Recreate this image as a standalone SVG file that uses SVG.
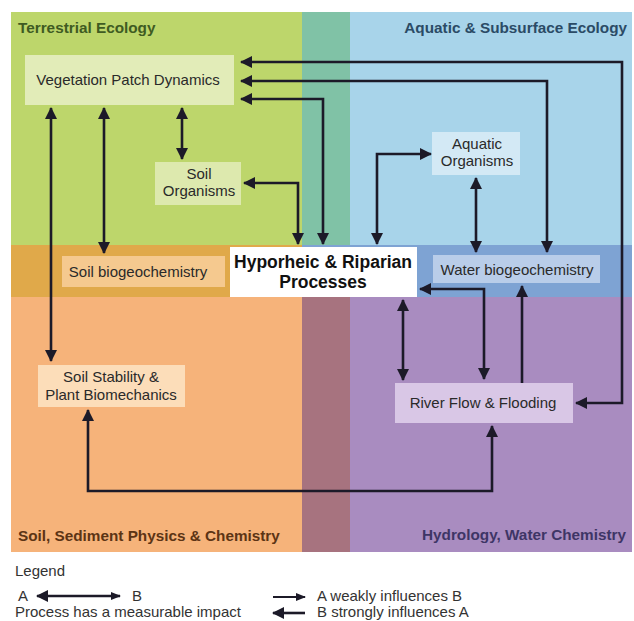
<svg xmlns="http://www.w3.org/2000/svg" width="634" height="621" viewBox="0 0 634 621">
<defs>
<marker id="ah" viewBox="0 0 12 12" refX="11" refY="6" markerWidth="12" markerHeight="12" markerUnits="userSpaceOnUse" orient="auto-start-reverse"><path d="M0,0 L12,6 L0,12 z" fill="#1c1a28"/></marker>
<marker id="ahs" viewBox="0 0 10 8" refX="9" refY="4" markerWidth="10" markerHeight="8" markerUnits="userSpaceOnUse" orient="auto-start-reverse"><path d="M0,0 L10,4 L0,8 z" fill="#1c1a28"/></marker>
<style>
.lbl{font-family:"Liberation Sans",Arial,sans-serif;font-size:15px;fill:#2a2a2a;text-anchor:middle}
.sec{font-family:"Liberation Sans",Arial,sans-serif;font-size:15.3px;font-weight:bold}
.leg{font-family:"Liberation Sans",Arial,sans-serif;font-size:15px;fill:#333}
.c{fill:none;stroke:#1c1a28;stroke-width:2.6;marker-start:url(#ah);marker-end:url(#ah)}
.c1{fill:none;stroke:#1c1a28;stroke-width:2.6;marker-end:url(#ah)}
</style>
</defs>
<rect width="634" height="621" fill="#ffffff"/>
<g id="background">
<rect x="11" y="12" width="291" height="233" fill="#bdd66b"/>
<rect x="302" y="12" width="48" height="233" fill="#80c2a6"/>
<rect x="350" y="12" width="282" height="233" fill="#a8d4ea"/>
<rect x="11" y="245" width="291" height="52" fill="#e0a94a"/>
<rect x="302" y="245" width="330" height="52" fill="#7ea3d3"/>
<rect x="11" y="297" width="291" height="255" fill="#f6b37a"/>
<rect x="302" y="297" width="48" height="255" fill="#a7737f"/>
<rect x="350" y="297" width="282" height="255" fill="#a98cc0"/>
<text class="sec" x="18" y="33" fill="#3f5b22">Terrestrial Ecology</text>
<text class="sec" x="627" y="33" fill="#2b4b66" text-anchor="end">Aquatic &amp; Subsurface Ecology</text>
<text class="sec" x="18" y="541" fill="#5c3414">Soil, Sediment Physics &amp; Chemistry</text>
<text class="sec" x="626" y="540" fill="#3e3566" text-anchor="end">Hydrology, Water Chemistry</text>
</g>
<g id="connectors">
<path class="c" d="M241 62 H622 V403 H576"/>
<path class="c" d="M241 81 H547 V252"/>
<path class="c" d="M241 99 H323 V244"/>
<path class="c" d="M51 108 V361"/>
<path class="c" d="M104 108 V253"/>
<path class="c" d="M182 108 V159"/>
<path class="c" d="M244 183 H298 V244"/>
<path class="c" d="M377 244 V154 H431"/>
<path class="c" d="M476 178 V252"/>
<path class="c" d="M420 289 H484 V379"/>
<path class="c" d="M403 300 V380"/>
<path class="c1" d="M522 383 V286"/>
<path class="c" d="M88 410 V491 H492 V426"/>
</g>
<g id="vegetation">
<rect x="25" y="55" width="209" height="50" fill="#e2ecb8"/>
<text class="lbl" x="128" y="85">Vegetation Patch Dynamics</text>
</g>
<g id="soil-organisms">
<rect x="155" y="162" width="86" height="43" fill="#dde9ae"/>
<text class="lbl" x="199" y="179">Soil</text>
<text class="lbl" x="199" y="196">Organisms</text>
</g>
<g id="soil-biogeochemistry">
<rect x="62" y="256" width="163" height="31" fill="#f5c98f"/>
<text class="lbl" x="138" y="277">Soil biogeochemistry</text>
</g>
<g id="hyporheic">
<rect x="230" y="247" width="187" height="50" fill="#ffffff"/>
<text x="323" y="268" font-family="Liberation Sans, Arial, sans-serif" font-size="17.5" font-weight="bold" fill="#111" text-anchor="middle">Hyporheic &amp; Riparian</text>
<text x="323" y="288" font-family="Liberation Sans, Arial, sans-serif" font-size="17.5" font-weight="bold" fill="#111" text-anchor="middle">Processes</text>
</g>
<g id="aquatic-organisms">
<rect x="432" y="132" width="88" height="43" fill="#d3e9f5"/>
<text class="lbl" x="477" y="149">Aquatic</text>
<text class="lbl" x="477" y="166">Organisms</text>
</g>
<g id="water-biogeochemistry">
<rect x="433" y="255" width="167" height="28" fill="#b9cde9"/>
<text class="lbl" x="517" y="275">Water biogeochemistry</text>
</g>
<g id="soil-stability">
<rect x="38" y="365" width="147" height="42" fill="#fcddb9"/>
<text class="lbl" x="111" y="382">Soil Stability &amp;</text>
<text class="lbl" x="111" y="400">Plant Biomechanics</text>
</g>
<g id="river-flow">
<rect x="395" y="383" width="178" height="40" fill="#d9c7e6"/>
<text class="lbl" x="483" y="408">River Flow &amp; Flooding</text>
</g>
<g id="legend">
<text class="leg" x="15" y="576">Legend</text>
<text class="leg" x="18" y="601">A</text>
<path d="M37 596 H120" fill="none" stroke="#1c1a28" stroke-width="2.6" marker-start="url(#ah)" marker-end="url(#ahs)"/>
<text class="leg" x="132" y="601">B</text>
<text class="leg" x="15" y="617">Process has a measurable impact</text>
<path d="M273 597 H305" fill="none" stroke="#1c1a28" stroke-width="2" marker-end="url(#ahs)"/>
<text class="leg" x="317" y="601">A weakly influences B</text>
<path d="M305 613 H273" fill="none" stroke="#1c1a28" stroke-width="2.6" marker-end="url(#ah)"/>
<text class="leg" x="317" y="617">B strongly influences A</text>
</g>
</svg>
